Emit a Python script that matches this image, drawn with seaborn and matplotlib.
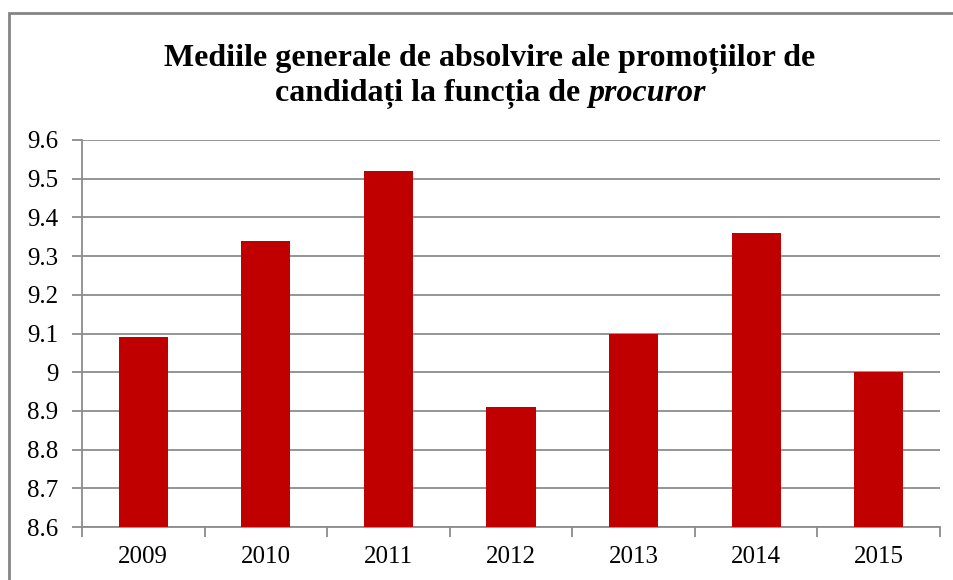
import matplotlib
matplotlib.use("Agg")
import matplotlib.pyplot as plt
import seaborn as sns
import pandas as pd
from matplotlib.patches import Rectangle

years = ["2009", "2010", "2011", "2012", "2013", "2014", "2015"]
values = [9.09, 9.34, 9.52, 8.91, 9.10, 9.36, 9.00]
yticks = [8.6, 8.7, 8.8, 8.9, 9.0, 9.1, 9.2, 9.3, 9.4, 9.5, 9.6]
ytick_labels = ["8.6", "8.7", "8.8", "8.9", "9", "9.1", "9.2", "9.3", "9.4", "9.5", "9.6"]
title_line1 = "Mediile generale de absolvire ale promoțiilor de"
title_line2a = "candidați la funcția de "
title_line2b = "procuror"

sns.set_theme(style="white")
plt.rcParams["font.family"] = ["Liberation Serif", "DejaVu Serif"]
plt.rcParams["text.color"] = "black"

df = pd.DataFrame({"year": years, "value": values})

fig = plt.figure(figsize=(9.54, 5.80), dpi=100)
ax = fig.add_axes([82/954, 1-527/580, (940-82)/954, (527-140)/580])

base = 8.6
sns.barplot(data=df, x="year", y=[v - base for v in values], ax=ax,
            color="#C00000", width=0.4, saturation=1, bottom=base, zorder=3,
            linewidth=0, edgecolor="none")

ax.set_ylim(8.6, 9.6)
ax.set_xlim(-0.5, len(years) - 0.5)
ax.set_yticks(yticks)
ax.set_yticklabels(ytick_labels, fontsize=18)
ax.set_xticks(range(len(years)))
ax.set_xticklabels(years, fontsize=18)
ax.set_xlabel("")
ax.set_ylabel("")
ax.yaxis.grid(True, color="#8C8C8C", linewidth=1.3, zorder=0)
ax.set_axisbelow(True)
for s in ["top", "right"]:
    ax.spines[s].set_visible(False)
for s in ["left", "bottom"]:
    ax.spines[s].set_color("#8C8C8C")
    ax.spines[s].set_linewidth(1.3)
ax.tick_params(axis="y", which="major", left=True, length=7, width=1.3, color="#8C8C8C", pad=10, labelcolor="black")
ax.tick_params(axis="x", which="major", bottom=False, pad=8, labelcolor="black")
ax.set_xticks([i - 0.5 for i in range(len(years) + 1)], minor=True)
ax.tick_params(axis="x", which="minor", bottom=True, length=7, width=1.3, color="#8C8C8C", direction="out")

# figure border
fig.patches.append(Rectangle((9/954, -0.05), 1.2, 1 - 13/580 + 0.05, transform=fig.transFigure,
                             fill=False, edgecolor="#858585", linewidth=2))

# title
fs = 23
cx = 490 / 954
fig.text(cx, 1 - 66/580, title_line1, ha="center", va="baseline", fontsize=fs, fontweight="bold", color="black")
fig.canvas.draw()
r = fig.canvas.get_renderer()
ta = fig.text(0, 1 - 101/580, title_line2a, ha="left", va="baseline", fontsize=fs, fontweight="bold", color="black")
tb = fig.text(0, 1 - 101/580, title_line2b, ha="left", va="baseline", fontsize=fs, fontweight="bold", fontstyle="italic", color="black")
wa = ta.get_window_extent(r).width
wb = tb.get_window_extent(r).width
W = fig.bbox.width
x0 = cx * W - (wa + wb) / 2
ta.set_x(x0 / W)
tb.set_x((x0 + wa) / W)

fig.savefig("out.png", dpi=100)
